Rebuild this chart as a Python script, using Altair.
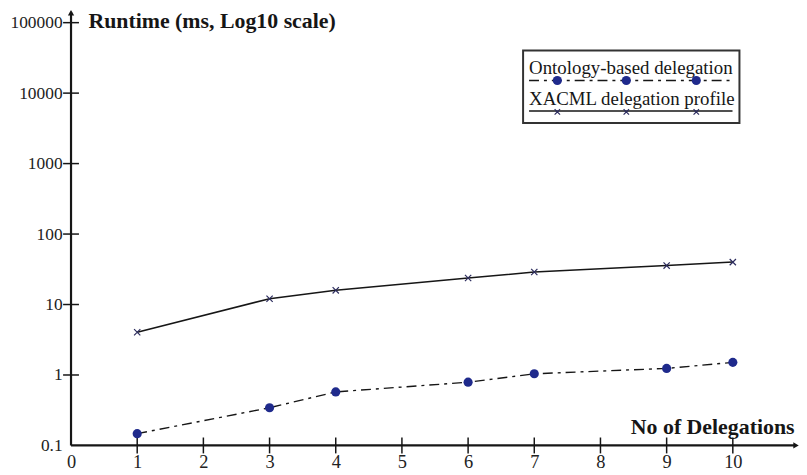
import altair as alt
import pandas as pd

# ---- data ----
delegations = [1, 3, 4, 6, 7, 9, 10]
ontology_ms = [0.147, 0.343, 0.575, 0.79, 1.04, 1.24, 1.51]
xacml_ms = [4.04, 12.1, 15.9, 23.8, 28.9, 35.7, 40.0]

x_tick_values = [1, 2, 3, 4, 5, 6, 7, 8, 9, 10]
x_label_values = [0, 1, 2, 3, 4, 5, 6, 7, 8, 9, 10]
y_tick_values = [1, 10, 100, 1000, 10000, 100000]
y_label_values = [0.1, 1, 10, 100, 1000, 10000, 100000]
x_domain = [0, 11]
y_domain = [0.1, 100000]

series_names = ["Ontology-based delegation", "XACML delegation profile"]
y_title = "Runtime (ms, Log10 scale)"
x_title = "No of Delegations"

# ---- styling ----
FONT = "Liberation Serif"
INK = "#161616"
LABEL = "#222222"
NAVY = "#1f2a8c"
XMARK = "#2c2c5e"
W, H = 733.5, 426

xs = alt.Scale(domain=x_domain, nice=False, zero=False)
ys = alt.Scale(type="log", domain=y_domain, nice=False)

df_ont = pd.DataFrame({"x": delegations, "y": ontology_ms})
df_xac = pd.DataFrame({"x": delegations, "y": xacml_ms})
one = pd.DataFrame({"a": [0]})

x_axis = alt.Axis(values=x_label_values, format="d", domain=False, ticks=False, grid=False,
                  title=None, labelFont=FONT, labelFontSize=18.5, labelColor=LABEL,
                  labelPadding=7, labelFlush=False)
y_axis = alt.Axis(values=y_label_values, format="~g", domain=False, ticks=False,
                  grid=False, title=None, labelFont=FONT, labelFontSize=17.5,
                  labelColor=LABEL, labelPadding=9, labelFlush=False)

# series
ont_line = alt.Chart(df_ont).mark_line(color=INK, strokeWidth=1.4,
                                       strokeDash=[10, 5, 3, 5]).encode(
    x=alt.X("x:Q", scale=xs, axis=x_axis),
    y=alt.Y("y:Q", scale=ys, axis=y_axis),
)
ont_pts = alt.Chart(df_ont).mark_point(shape="circle", filled=True, color=NAVY,
                                       size=85, opacity=1).encode(
    x=alt.X("x:Q", scale=xs), y=alt.Y("y:Q", scale=ys))

XPATH = "M-1,-1L1,1M-1,1L1,-1"
xac_line = alt.Chart(df_xac).mark_line(color=INK, strokeWidth=1.5).encode(
    x=alt.X("x:Q", scale=xs), y=alt.Y("y:Q", scale=ys))
xac_pts = alt.Chart(df_xac).mark_point(shape=XPATH, filled=False, stroke=XMARK,
                                       strokeWidth=1.2, size=40, opacity=1).encode(
    x=alt.X("x:Q", scale=xs), y=alt.Y("y:Q", scale=ys))

# axes lines, ticks and arrows
yline = alt.Chart(pd.DataFrame({"x": [x_domain[0]], "y": [y_domain[0]], "y2": [y_domain[1]]})).mark_rule(
    color=INK, strokeWidth=2.2, y2Offset=-11).encode(
    x=alt.X("x:Q", scale=xs), y=alt.Y("y:Q", scale=ys), y2="y2:Q")
xline = alt.Chart(pd.DataFrame({"x": [x_domain[0]], "x2": [x_domain[1]], "y": [y_domain[0]]})).mark_rule(
    color=INK, strokeWidth=2.2, x2Offset=-3).encode(
    x=alt.X("x:Q", scale=xs), x2="x2:Q", y=alt.Y("y:Q", scale=ys))
xticks = alt.Chart(pd.DataFrame({"x": x_tick_values, "y": [y_domain[0]] * len(x_tick_values)})).mark_rule(
    color=INK, strokeWidth=1.5, yOffset=-8, y2Offset=8).encode(
    x=alt.X("x:Q", scale=xs), y=alt.Y("y:Q", scale=ys), y2="y:Q")
yticks = alt.Chart(pd.DataFrame({"y": y_tick_values, "x": [x_domain[0]] * len(y_tick_values)})).mark_rule(
    color=INK, strokeWidth=1.5, xOffset=-8, x2Offset=8).encode(
    y=alt.Y("y:Q", scale=ys), x=alt.X("x:Q", scale=xs), x2="x:Q")
up_arrow = alt.Chart(pd.DataFrame({"x": [x_domain[0]], "y": [y_domain[1]]})).mark_point(
    shape="triangle-up", filled=True, color=INK, size=40, opacity=1, yOffset=-10).encode(
    x=alt.X("x:Q", scale=xs), y=alt.Y("y:Q", scale=ys))
right_arrow = alt.Chart(pd.DataFrame({"x": [x_domain[1]], "y": [y_domain[0]]})).mark_point(
    shape="triangle-right", filled=True, color=INK, size=40, opacity=1, xOffset=-3).encode(
    x=alt.X("x:Q", scale=xs), y=alt.Y("y:Q", scale=ys))

# titles
ytitle = alt.Chart(one).mark_text(text=y_title, font=FONT, fontSize=22, fontWeight="bold",
                                  color=INK, align="left", baseline="alphabetic").encode(
    x=alt.value(17.5), y=alt.value(5.7))
xtitle = alt.Chart(one).mark_text(text=x_title, font=FONT, fontSize=22, fontWeight="bold",
                                  color=INK, align="right", baseline="alphabetic").encode(
    x=alt.value(729), y=alt.value(414.7))

# legend (drawn by hand)
LX0, LX1, LY0, LY1 = 455.5, 673.5, 28, 101
leg_box = alt.Chart(one).mark_rect(fill="white", stroke="#333333", strokeWidth=2).encode(
    x=alt.value(LX0), x2=alt.value(LX1), y=alt.value(LY0), y2=alt.value(LY1))
leg_t1 = alt.Chart(one).mark_text(text=series_names[0], font=FONT, fontSize=19, color=INK,
                                  align="left", baseline="alphabetic").encode(
    x=alt.value(461.5), y=alt.value(52))
leg_t2 = alt.Chart(one).mark_text(text=series_names[1], font=FONT, fontSize=19, color=INK,
                                  align="left", baseline="alphabetic").encode(
    x=alt.value(461.5), y=alt.value(82.5))
leg_l1 = alt.Chart(one).mark_rule(color=INK, strokeWidth=1.4, strokeDash=[10, 5, 3, 5]).encode(
    x=alt.value(461.5), x2=alt.value(666.5), y=alt.value(58.3))
leg_l2 = alt.Chart(one).mark_rule(color=INK, strokeWidth=1.5).encode(
    x=alt.value(461.5), x2=alt.value(666.5), y=alt.value(89))
leg_marks = []
for px in [490, 559.5, 630]:
    leg_marks.append(alt.Chart(one).mark_point(shape="circle", filled=True, color=NAVY, size=85,
                                               opacity=1).encode(x=alt.value(px), y=alt.value(58.3)))
    leg_marks.append(alt.Chart(one).mark_point(shape=XPATH, filled=False, stroke=XMARK, strokeWidth=1.2,
                                               size=30, opacity=1).encode(x=alt.value(px), y=alt.value(90)))

chart = alt.layer(
    ont_line, xac_line, yline, xline, xticks, yticks, up_arrow, right_arrow,
    ont_pts, xac_pts, ytitle, xtitle, leg_box, leg_l1, leg_l2, leg_t1, leg_t2, *leg_marks
).properties(
    width=W, height=H,
    autosize=alt.AutoSizeParams(type="none"),
    padding={"left": 63.5, "top": 13, "right": 0, "bottom": 27},
    background="white",
).configure_view(stroke=None)

chart.save("out.html", embed_options={"renderer": "svg", "actions": False})
